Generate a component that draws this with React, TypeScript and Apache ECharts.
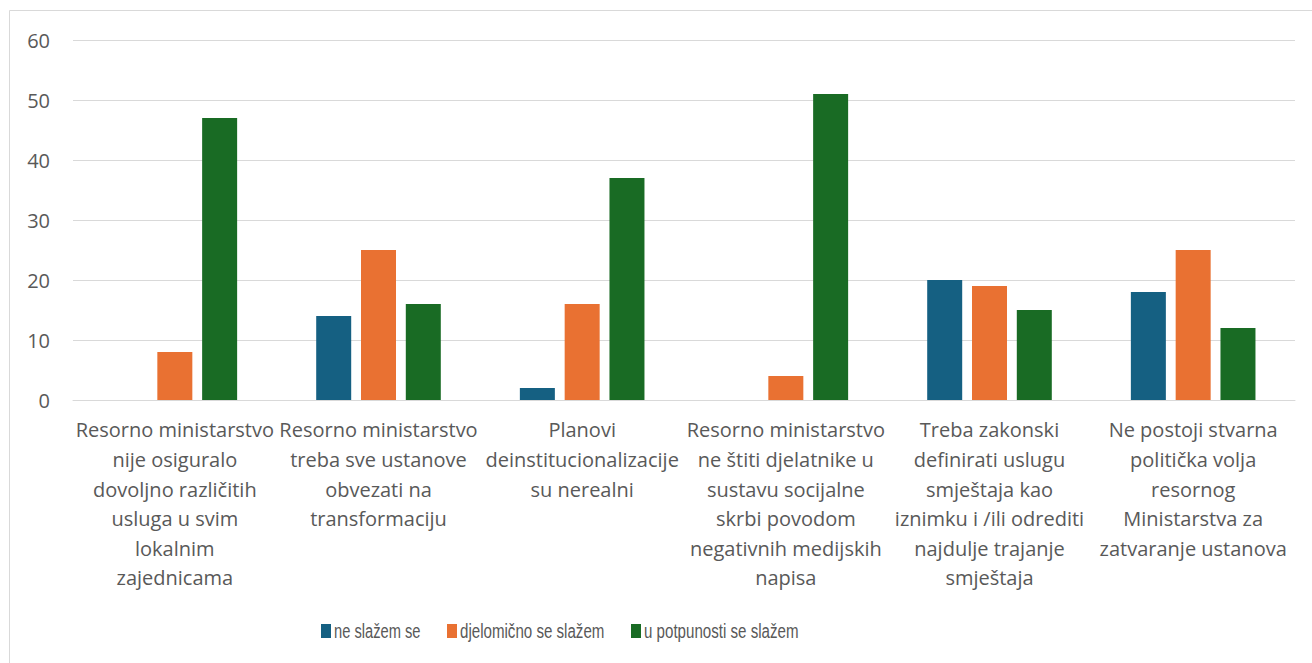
import React, { useEffect, useRef } from "react";
import * as echarts from "echarts";

const categories: string[] = [
  "Resorno ministarstvo\nnije osiguralo\ndovoljno različitih\nusluga u svim\nlokalnim\nzajednicama",
  "Resorno ministarstvo\ntreba sve ustanove\nobvezati na\ntransformaciju",
  "Planovi\ndeinstitucionalizacije\nsu nerealni",
  "Resorno ministarstvo\nne štiti djelatnike u\nsustavu socijalne\nskrbi povodom\nnegativnih medijskih\nnapisa",
  "Treba zakonski\ndefinirati uslugu\nsmještaja kao\niznimku i /ili odrediti\nnajdulje trajanje\nsmještaja",
  "Ne postoji stvarna\npolitička volja\nresornog\nMinistarstva za\nzatvaranje ustanova",
];

const seriesNames: string[] = ["ne slažem se", "djelomično se slažem", "u potpunosti se slažem"];
const neSlazem: number[] = [0, 14, 2, 0, 20, 18];
const djelomicno: number[] = [8, 25, 16, 4, 19, 25];
const uPotpunosti: number[] = [47, 16, 37, 51, 15, 12];
const colors: string[] = ["#156082", "#E97132", "#196B24"];

const FONT = "'Open Sans', 'Noto Sans', sans-serif";

// legend layout (positions only)
const legendRectX: number[] = [321, 447, 631];
const legendTextX: number[] = [334, 460, 644];
const legendScale: number[] = [0.7, 0.72, 0.72];

export default function App() {
  const ref = useRef<HTMLDivElement>(null);
  useEffect(() => {
    if (!ref.current) return;
    const chart = echarts.init(ref.current, undefined, { renderer: "svg" });
    const values = [neSlazem, djelomicno, uPotpunosti];
    const legendGraphics: any[] = [];
    seriesNames.forEach((name, i) => {
      legendGraphics.push({
        type: "rect",
        shape: { x: legendRectX[i], y: 624, width: 10, height: 14 },
        style: { fill: colors[i] },
        silent: true,
      });
      legendGraphics.push({
        type: "text",
        x: legendTextX[i],
        y: 631,
        scaleX: legendScale[i],
        style: {
          text: name,
          fill: "#595959",
          font: "21px 'Liberation Sans', Arial, sans-serif",
          verticalAlign: "middle",
          align: "left",
        },
        silent: true,
      });
    });
    chart.setOption({
      animation: false,
      textStyle: { fontFamily: FONT },
      graphic: [
        {
          type: "rect",
          shape: { x: 9.5, y: 10.5, width: 1320, height: 670 },
          style: { fill: "none", stroke: "#d9d9d9", lineWidth: 1 },
          silent: true,
        },
        ...legendGraphics,
      ],
      grid: { left: 73, right: 17, top: 40, bottom: 263, containLabel: false },
      legend: { show: false, data: seriesNames },
      xAxis: {
        type: "category",
        data: categories,
        axisLine: { lineStyle: { color: "#d9d9d9", width: 1 } },
        axisTick: { show: false },
        axisLabel: {
          interval: 0,
          fontSize: 20,
          lineHeight: 29.6,
          color: "#595959",
          margin: 15,
          fontFamily: FONT,
        },
      },
      yAxis: {
        type: "value",
        min: 0,
        max: 60,
        interval: 10,
        axisLine: { show: false },
        axisTick: { show: false },
        splitLine: { lineStyle: { color: "#d9d9d9", width: 1 } },
        axisLabel: { fontSize: 20, color: "#595959", margin: 23, fontFamily: FONT },
      },
      series: seriesNames.map((name, i) => ({
        name,
        type: "bar",
        data: values[i],
        barWidth: 35,
        barGap: "28%",
        itemStyle: { color: colors[i] },
      })),
    });
    return () => chart.dispose();
  }, []);
  return (
    <div
      ref={ref}
      style={{ position: "fixed", left: 0, top: 0, width: 1312, height: 663, background: "#fff" }}
    />
  );
}
